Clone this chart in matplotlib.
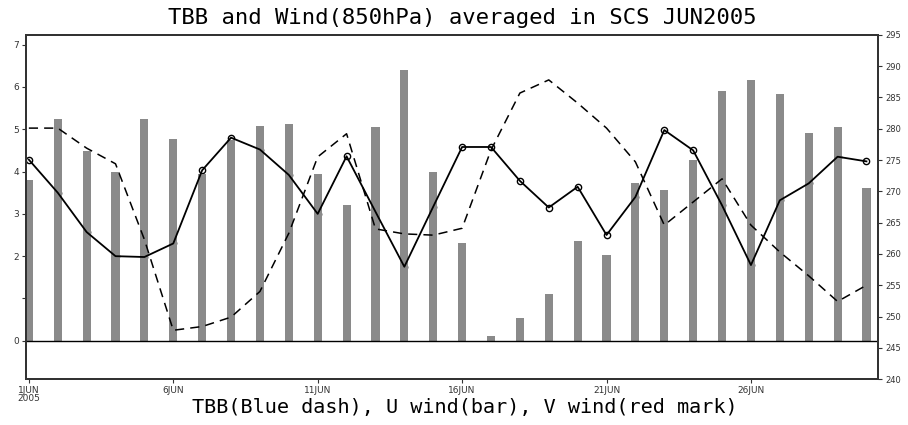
import matplotlib
matplotlib.use('Agg')
import matplotlib.pyplot as plt

# days of June 2005
days = list(range(1, 31))

# U wind (bars, left axis)
u_wind = [3.81, 5.25, 4.48, 3.99, 5.25, 4.76, 3.95, 4.74, 5.08, 5.12,
          3.93, 3.22, 5.05, 6.39, 3.99, 2.30, 0.12, 0.54, 1.10, 2.37,
          2.02, 3.74, 3.57, 4.28, 5.90, 6.17, 5.83, 4.91, 5.06, 3.60]

# V wind (solid line with circles, left axis)
v_wind = [4.28, 3.50, 2.57, 2.00, 1.98, 2.30, 4.03, 4.80, 4.52, 3.92,
          3.00, 4.36, 3.05, 1.75, 3.17, 4.58, 4.58, 3.78, 3.15, 3.64,
          2.50, 3.40, 4.98, 4.50, 3.20, 1.79, 3.32, 3.72, 4.35, 4.24]

# TBB (dashed line, right axis)
tbb = [280.1, 280.1, 276.9, 274.4, 262.3, 247.8, 248.4, 249.9, 254.0, 263.3,
       275.5, 279.2, 264.0, 263.2, 263.0, 264.1, 276.6, 285.7, 287.8, 284.1,
       280.1, 274.7, 264.6, 268.3, 272.0, 264.6, 260.3, 256.5, 252.4, 255.0]

xtick_days = [1, 6, 11, 16, 21, 26]
xtick_labels = ['1JUN\n2005', '6JUN', '11JUN', '16JUN', '21JUN', '26JUN']
left_ticks = [0, 1, 2, 3, 4, 5, 6, 7]
left_labels = ['0', '', '2', '3', '4', '5', '6', '7']
right_ticks = list(range(240, 296, 5))

fig = plt.figure(figsize=(9.08, 4.25), dpi=100)
ax = fig.add_axes([0.0286, 0.108, 0.9384, 0.81])

frame_col = '#333333'
bar_col = '#8a8a8a'

ax.plot(days, v_wind, 'o', ms=4.5, mfc='white', mec='black', mew=1.0, zorder=1)
ax.bar(days, u_wind, width=0.28, color=bar_col, zorder=2)
ax.plot(days, v_wind, '-', color='black', lw=1.3, zorder=3)
ax.axhline(0, color='black', lw=1.0, zorder=2.5)

ax.set_xlim(0.9, 30.4)
ax.set_ylim(-0.905, 7.23)
ax.set_xticks(xtick_days)
ax.set_xticklabels(xtick_labels, fontsize=6.5, linespacing=0.9)
ax.set_yticks(left_ticks)
ax.set_yticklabels(left_labels, fontsize=6.5)
ax.tick_params(direction='out', length=3, width=0.8, colors=frame_col, pad=2)
for s in ax.spines.values():
    s.set_color(frame_col)
    s.set_linewidth(1.4)

ax2 = ax.twinx()
ax2.plot(days, tbb, color='black', lw=1.1, dashes=(6, 4), zorder=3)
ax2.set_ylim(240, 295)
ax2.set_yticks(right_ticks)
ax2.set_yticklabels([str(t) for t in right_ticks], fontsize=6)
ax2.tick_params(direction='out', length=3, width=0.8, colors=frame_col, pad=2)
for s in ax2.spines.values():
    s.set_color(frame_col)
    s.set_linewidth(1.4)

fig.text(0.509, 0.958, 'TBB and Wind(850hPa) averaged in SCS JUN2005',
         ha='center', va='center', fontsize=16, family='DejaVu Sans Mono')
fig.text(0.512, 0.042, 'TBB(Blue dash), U wind(bar), V wind(red mark)',
         ha='center', va='center', fontsize=14.5, family='DejaVu Sans Mono')

fig.savefig('out.png', dpi=100)
